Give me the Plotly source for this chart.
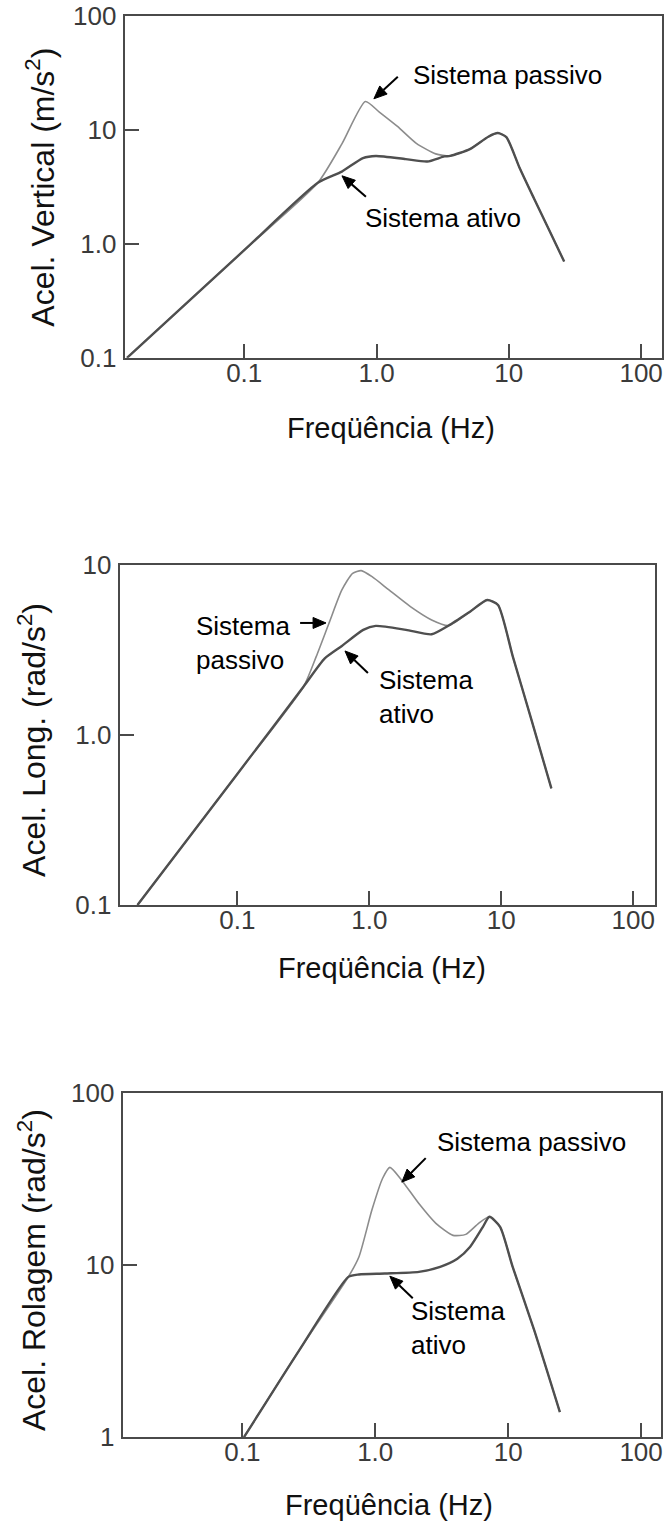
import math
import plotly.graph_objects as go

# ---- Aceleração vertical ----
vert_freq_passivo = [0.013, 0.1, 0.36, 0.55, 0.824, 1.05, 1.44, 2.0, 2.8, 3.6, 5.08, 7.0, 8.26, 9.58, 12.0, 15.5, 20.0, 26.2]
vert_passivo = [0.1, 0.88, 3.43, 7.6, 17.7, 14.3, 10.7, 7.6, 6.15, 5.9, 6.77, 8.7, 9.36, 8.63, 4.7, 2.5, 1.35, 0.70]
vert_freq_ativo = [0.013, 0.1, 0.36, 0.547, 0.79, 0.99, 1.66, 2.42, 3.26, 3.6, 5.08, 7.0, 8.26, 9.58, 12.0, 15.5, 20.0, 26.2]
vert_ativo = [0.1, 0.88, 3.43, 4.3, 5.65, 5.9, 5.53, 5.27, 5.84, 5.9, 6.77, 8.7, 9.36, 8.63, 4.7, 2.5, 1.35, 0.70]

# ---- Aceleração longitudinal ----
long_freq_passivo = [0.0175, 0.1, 0.317, 0.396, 0.495, 0.62, 0.748, 0.869, 1.05, 1.41, 2.05, 2.97, 4.0, 5.8, 7.83, 9.46, 12.25, 17.0, 24.0]
long_passivo = [0.1, 0.59, 1.92, 2.89, 4.54, 7.13, 8.93, 9.26, 8.53, 7.13, 5.69, 4.75, 4.4, 5.31, 6.22, 5.82, 2.89, 1.22, 0.485]
long_freq_ativo = [0.0175, 0.1, 0.317, 0.46, 0.62, 0.9, 1.12, 1.9, 2.97, 4.0, 5.8, 7.83, 9.46, 12.25, 17.0, 24.0]
long_ativo = [0.1, 0.59, 1.92, 2.82, 3.34, 4.15, 4.38, 4.15, 3.91, 4.4, 5.31, 6.22, 5.82, 2.89, 1.22, 0.485]

# ---- Aceleração de rolagem ----
roll_freq_passivo = [0.103, 0.268, 0.628, 0.755, 0.944, 1.135, 1.29, 1.58, 2.13, 2.86, 3.85, 4.8, 6.0, 7.23, 8.7, 10.8, 15.7, 24.5]
roll_passivo = [1.0, 3.2, 8.55, 11.2, 20.9, 31.9, 37.0, 31.2, 22.8, 17.5, 14.9, 15.1, 17.5, 19.1, 16.7, 9.8, 4.19, 1.4]
roll_freq_ativo = [0.103, 0.268, 0.628, 0.755, 1.18, 2.13, 3.08, 4.15, 5.18, 6.46, 7.23, 8.7, 10.8, 15.7, 24.5]
roll_ativo = [1.0, 3.2, 8.55, 8.83, 8.94, 9.14, 9.78, 10.9, 12.8, 16.7, 19.1, 16.7, 9.8, 4.19, 1.4]

x_tickvals = [0.1, 1, 10, 100]
x_ticktext = ["0.1", "1.0", "10", "100"]
y1_tickvals, y1_ticktext = [0.1, 1, 10, 100], ["0.1", "1.0", "10", "100"]
y2_tickvals, y2_ticktext = [0.1, 1, 10], ["0.1", "1.0", "10"]
y3_tickvals, y3_ticktext = [1, 10, 100], ["1", "10", "100"]

W, H = 672, 1524
FONT = "Liberation Sans, Arial, Helvetica, sans-serif"
AXIS_COLOR = "#4a4a4a"
PASSIVE_COLOR = "#8c8c8c"
ACTIVE_COLOR = "#4f4f4f"

# layout positions below are given on a slightly tighter vertical grid;
# this stretches them about the page centre to fill the page
V_STRETCH = 1 / 0.98


def page_y(y):
    return H / 2 + (y - H / 2) * V_STRETCH


def px(x, y):
    """Layout pixel position -> paper coordinates."""
    return x / W, 1 - page_y(y) / H


fig = go.Figure()

panels = [
    ("x", "y", vert_freq_passivo, vert_passivo, vert_freq_ativo, vert_ativo),
    ("x2", "y2", long_freq_passivo, long_passivo, long_freq_ativo, long_ativo),
    ("x3", "y3", roll_freq_passivo, roll_passivo, roll_freq_ativo, roll_ativo),
]
for xa, ya, fp, vp, fa, va in panels:
    fig.add_trace(go.Scatter(x=fp, y=vp, xaxis=xa, yaxis=ya, mode="lines",
                             line=dict(color=PASSIVE_COLOR, width=1.6, shape="spline", smoothing=0.6),
                             name="Sistema passivo", showlegend=False, hoverinfo="x+y"))
    fig.add_trace(go.Scatter(x=fa, y=va, xaxis=xa, yaxis=ya, mode="lines",
                             line=dict(color=ACTIVE_COLOR, width=2.4, shape="spline", smoothing=0.6),
                             name="Sistema ativo", showlegend=False, hoverinfo="x+y"))


def axis_style(**kw):
    d = dict(type="log", showline=True, linecolor=AXIS_COLOR, linewidth=2, mirror=True,
             ticks="inside", ticklen=14, tickwidth=2, tickcolor=AXIS_COLOR,
             showgrid=False, zeroline=False,
             tickfont=dict(family=FONT, size=26, color="#3a3a3a"))
    d.update(kw)
    return d


# panel boxes in layout pixels: (left, right, top, bottom)
boxes = [(125, 664, 16, 358), (120, 657, 565, 905), (123, 663, 1093, 1437)]
x_ranges = [[-1.904, 2.158], [-1.892, 2.166], [-1.9, 2.15]]
y_ranges = [[-1, 2], [-1, 1], [0, 2]]
y_ticks = [(y1_tickvals, y1_ticktext), (y2_tickvals, y2_ticktext), (y3_tickvals, y3_ticktext)]

layout = {}
for i, ((l, r, t, b), xr, yr, (yv, yt)) in enumerate(zip(boxes, x_ranges, y_ranges, y_ticks)):
    sfx = "" if i == 0 else str(i + 1)
    layout["xaxis" + sfx] = axis_style(domain=[l / W, r / W], range=xr, anchor="y" + sfx,
                                       tickvals=x_tickvals, ticktext=x_ticktext, ticklabelstandoff=-9)
    layout["yaxis" + sfx] = axis_style(domain=[px(0, b)[1], px(0, t)[1]], range=yr, anchor="x" + sfx,
                                       tickvals=yv, ticktext=yt, ticklabelstandoff=1)

annotations = []

# axis titles
y_titles = ["Acel. Vertical (m/s<sup>2</sup>)", "Acel. Long. (rad/s<sup>2</sup>)",
            "Acel. Rolagem (rad/s<sup>2</sup>)"]
y_title_pos = [(40, 187), (32, 740), (32, 1270)]
x_title_pos = [(392, 428), (383, 968), (390, 1505)]
for txt, (tx, ty) in zip(y_titles, y_title_pos):
    xx, yy = px(tx, ty)
    annotations.append(dict(text=txt, x=xx, y=yy, xref="paper", yref="paper", showarrow=False,
                            textangle=-90, xanchor="center", yanchor="middle",
                            font=dict(family=FONT, size=32, color="#111111")))
for tx, ty in x_title_pos:
    xx, yy = px(tx, ty)
    annotations.append(dict(text="Freqüência (Hz)", x=xx, y=yy, xref="paper", yref="paper",
                            showarrow=False, xanchor="center", yanchor="middle",
                            font=dict(family=FONT, size=29, color="#111111")))

# callout labels: (text, left x, center y)
labels = [
    ("Sistema passivo", 412, 75),
    ("Sistema ativo", 364, 218),
    ("Sistema<br>passivo", 195, 643),
    ("Sistema<br>ativo", 378, 697),
    ("Sistema passivo", 436, 1142),
    ("Sistema<br>ativo", 410, 1328),
]
for txt, lx, cy in labels:
    xx, yy = px(lx, cy)
    annotations.append(dict(text=txt, x=xx, y=yy, xref="paper", yref="paper", showarrow=False,
                            xanchor="left", yanchor="middle", align="left",
                            font=dict(family=FONT, size=26, color="#000000")))

# callout arrows as shapes: (tail x, tail y, head x, head y) in layout pixels
arrows = [
    (399, 77, 375, 99),
    (367, 197, 343, 176),
    (301, 623, 327, 623),
    (369, 673, 346, 651),
    (427, 1158, 403, 1182),
    (414, 1298, 391, 1276),
]
HEAD_LEN, HEAD_W = 13, 11
shapes = []
for tx, ty, hx, hy in arrows:
    dx, dy = hx - tx, hy - ty
    n = math.hypot(dx, dy)
    ux, uy = dx / n, dy / n
    bx, by = hx - HEAD_LEN * ux, hy - HEAD_LEN * uy
    nx, ny = -uy, ux
    x0, y0 = px(tx, ty)
    x1, y1 = px(bx, by)
    shapes.append(dict(type="line", xref="paper", yref="paper", x0=x0, y0=y0, x1=x1, y1=y1,
                       line=dict(color="#000000", width=2)))
    pts = [(hx, hy), (bx + nx * HEAD_W / 2, by + ny * HEAD_W / 2), (bx - nx * HEAD_W / 2, by - ny * HEAD_W / 2)]
    path = "M " + " L ".join(f"{px(a, b)[0]:.5f},{px(a, b)[1]:.5f}" for a, b in pts) + " Z"
    shapes.append(dict(type="path", xref="paper", yref="paper", path=path,
                       fillcolor="#000000", line=dict(color="#000000", width=1)))

fig.update_layout(**layout)
fig.update_layout(width=W, height=H, margin=dict(l=0, r=0, t=0, b=0),
                  paper_bgcolor="white", plot_bgcolor="white",
                  annotations=annotations, shapes=shapes, showlegend=False)

fig.write_html("out.html")
